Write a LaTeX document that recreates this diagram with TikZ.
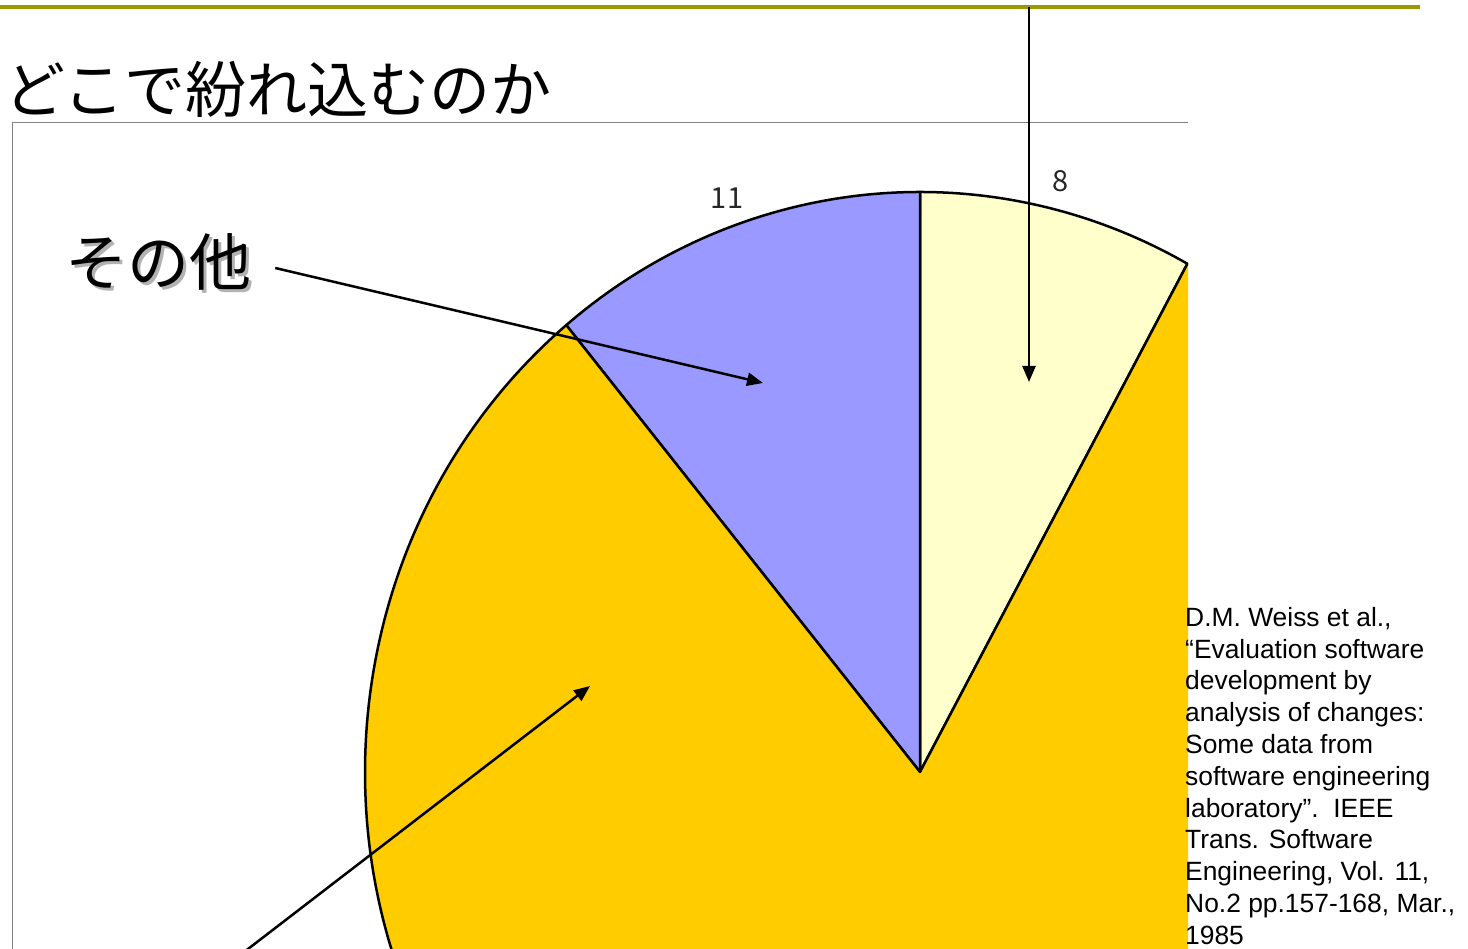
\documentclass[tikz,border=0pt]{standalone}
\usepackage{fontspec}
\setmainfont{Liberation Sans}
\newfontfamily\jpfont{Noto Sans CJK JP}
\usetikzlibrary{calc,positioning,arrows.meta}
\definecolor{barolive}{HTML}{999900}
\definecolor{pieLight}{HTML}{FFFFCC}
\definecolor{piePurple}{HTML}{9999FF}
\definecolor{pieGold}{HTML}{FFCC00}
\tikzset{slice/.style={draw=black,line width=2.5pt,line join=round},
pointer/.style={line width=2.5pt,-{Triangle[length=16pt,width=13pt]}},
frame/.style={draw=black!50,line width=1pt}}
\tikzstyle{value} = [font=\jpfont\fontsize{29}{34}\selectfont, text=black!85, inner sep=0pt]
\tikzstyle{bigjp} = [font=\jpfont\fontsize{62}{64}\selectfont, inner sep=0pt]

\begin{document}
\begin{tikzpicture}[x=1pt,y=1pt]
		\useasboundingbox (0,0) rectangle (1468,949);
		\draw[barolive,line width=4pt] (0,942) -- (1420,942);
		\node[anchor=base west,inner sep=0pt,font=\jpfont\fontsize{61}{63}\selectfont] (title) at (4,836) {どこで紛れ込むのか};

		% chart area
		\coordinate (C) at (920,177);
		\begin{scope}
			\clip (12,0) rectangle (1188,826);
			\foreach \a/\b/\c in {61.2/90/pieLight,90/129.6/piePurple,129.6/421.2/pieGold}
			\filldraw[slice,fill=\c] (C) -- ($(C)+(\a:555 and 580)$)
				arc[start angle=\a,end angle=\b,x radius=555,y radius=580] -- cycle;
		\end{scope}
		\draw[frame] (12,0) -- (12,826) -- (1188,826);

		\node[value] (n11) at (727,751) {11};
		\node[value] (n8) at (1061,768) {8};

		% label with its shadow
		\node[bigjp,text=black!30] (sonotaShadow) at (161,684) {その他};
		\node[bigjp] (sonota) at (158,687) {その他};

		\coordinate (tipOther) at (763,566);
		\coordinate (tipMain) at (590,263);
		\coordinate (tipTop) at (1029,567);
		\coordinate (topEnd) at (1029,942);
		\coordinate (mainEnd) at (235,-10);
		\draw[pointer] ([xshift=24pt,yshift=-6pt]sonota.east) -- (tipOther);
		\draw[pointer] (mainEnd) -- (tipMain);
		\draw[pointer] (topEnd) -- (tipTop);

		\node[anchor=north west,inner sep=0pt,align=left,font=\fontsize{26.4}{31.8}\selectfont] (cite) at (1185,342)
			{D.M. Weiss et al.,\\``Evaluation software\\development by\\analysis of changes:\\Some data from\\software engineering\\laboratory''.\ \ IEEE\\Trans. Software\\Engineering, Vol. 11,\\No.2 pp.157-168, Mar.,\\1985};
	\end{tikzpicture}
\end{document}
